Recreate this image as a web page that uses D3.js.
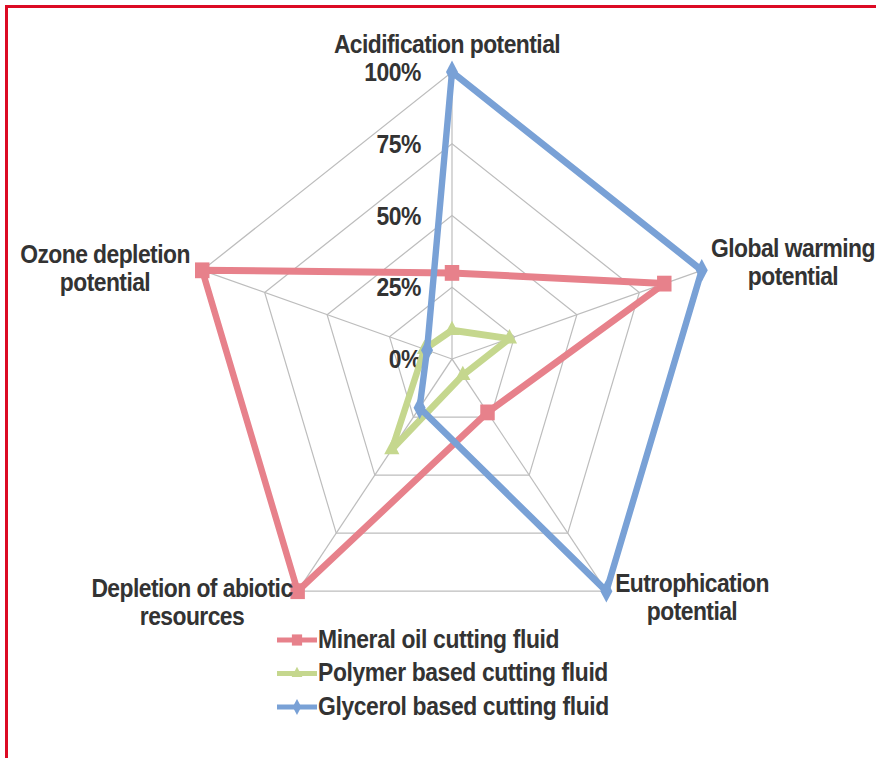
<!DOCTYPE html>
<html>
<head>
<meta charset="utf-8">
<script src="https://cdn.jsdelivr.net/npm/d3@7/dist/d3.min.js"></script>
<style>
  html, body { margin: 0; padding: 0; background: #fff; }
  svg { display: block; }
  text { font-family: "Liberation Sans", Arial, sans-serif; font-weight: bold; fill: #333; }
</style>
</head>
<body>
<svg id="chart" width="876" height="758"></svg>
<script>
// Impact categories, clockwise from the top axis
const categories = [
  ["Acidification potential"],
  ["Global warming", "potential"],
  ["Eutrophication", "potential"],
  ["Depletion of abiotic", "resources"],
  ["Ozone depletion", "potential"]
];
const seriesNames = [
  "Mineral oil cutting fluid",
  "Polymer based cutting fluid",
  "Glycerol based cutting fluid"
];
// Relative impact per category (share of the worst case)
const mineralOil = [0.30, 0.85, 0.23, 1.00, 1.00];
const polymerBased = [0.10, 0.23, 0.07, 0.39, 0.11];
const glycerolBased = [1.00, 1.00, 1.00, 0.21, 0.10];
const tickValues = [0, 0.25, 0.5, 0.75, 1];
const tickLabels = ["0%", "25%", "50%", "75%", "100%"];

const SX = 0.915;              // horizontal squeeze of the whole figure
const svg = d3.select("#chart");

// frame
svg.append("path")
  .attr("d", "M6.5,760 V6.5 H880")
  .attr("fill", "none")
  .attr("stroke", "#dc0a24")
  .attr("stroke-width", 3);

const g = svg.append("g").attr("transform", `scale(${SX},1)`);
const X = px => px / SX;       // screen x -> group x

const cx = X(452), cy = 359;
const r = d3.scaleLinear().domain([0, 1]).range([0, 287]);
const angle = d3.scaleLinear().domain([0, categories.length]).range([0, 2 * Math.PI]);

const plot = g.append("g").attr("transform", `translate(${cx},${cy})`);

const pt = (v, i) => [r(v) * Math.sin(angle(i)), -r(v) * Math.cos(angle(i))];

// grid rings
const radial = d3.lineRadial()
  .angle((d, i) => angle(i))
  .radius(d => r(d))
  .curve(d3.curveLinearClosed);

tickValues.filter(t => t > 0).forEach(t => {
  plot.append("path")
    .attr("d", radial(categories.map(() => t)))
    .attr("fill", "none")
    .attr("stroke", "#bdbdbd")
    .attr("stroke-width", 1.3);
});

// spokes
categories.forEach((c, i) => {
  const [x, y] = pt(1, i);
  plot.append("line")
    .attr("x1", 0).attr("y1", 0).attr("x2", x).attr("y2", y)
    .attr("stroke", "#bdbdbd")
    .attr("stroke-width", 1.3);
});

// tick labels along the top axis
plot.selectAll("text.tick")
  .data(tickValues)
  .join("text")
  .attr("class", "tick")
  .attr("x", X(421) - cx)
  .attr("y", d => -r(d) + 9)
  .attr("text-anchor", "end")
  .attr("font-size", 25)
  .attr("letter-spacing", -0.5)
  .text((d, i) => tickLabels[i]);

// category labels
const labelPos = [
  { x: 447, y: 53 },
  { x: 793, y: 257 },
  { x: 692, y: 592 },
  { x: 192, y: 597 },
  { x: 105, y: 263 }
];
categories.forEach((lines, i) => {
  const t = g.append("text")
    .attr("text-anchor", "middle")
    .attr("font-size", 25)
    .attr("letter-spacing", -0.6);
  lines.forEach((s, k) => {
    t.append("tspan")
      .attr("x", X(labelPos[i].x))
      .attr("y", labelPos[i].y + k * 28)
      .text(s);
  });
});

// series
const series = [
  { name: seriesNames[0], values: mineralOil, color: "#e7818b", marker: d3.symbolSquare, size: 250 },
  { name: seriesNames[1], values: polymerBased, color: "#c5d78e", marker: d3.symbolTriangle, size: 120 },
  { name: seriesNames[2], values: glycerolBased, color: "#79a1d6", marker: d3.symbolDiamond, size: 150 }
];

series.forEach(s => {
  plot.append("path")
    .attr("d", radial(s.values))
    .attr("fill", "none")
    .attr("stroke", s.color)
    .attr("stroke-width", 7)
    .attr("stroke-linejoin", "round");
  plot.selectAll(null)
    .data(s.values)
    .join("path")
    .attr("transform", (d, i) => { const [x, y] = pt(d, i); return `translate(${x},${y})`; })
    .attr("d", d3.symbol().type(s.marker).size(s.size))
    .attr("fill", s.color);
});

// legend
const legend = g.append("g");
series.forEach((s, i) => {
  const y = 648 + i * 33.5;
  legend.append("line")
    .attr("x1", X(277)).attr("x2", X(317))
    .attr("y1", y - 8).attr("y2", y - 8)
    .attr("stroke", s.color)
    .attr("stroke-width", 5);
  legend.append("path")
    .attr("transform", `translate(${X(297)},${y - 8})`)
    .attr("d", d3.symbol().type(s.marker).size(s.size * 0.5))
    .attr("fill", s.color);
  legend.append("text")
    .attr("x", X(318))
    .attr("y", y)
    .attr("font-size", 25)
    .attr("letter-spacing", -0.4)
    .text(s.name);
});
</script>
</body>
</html>
